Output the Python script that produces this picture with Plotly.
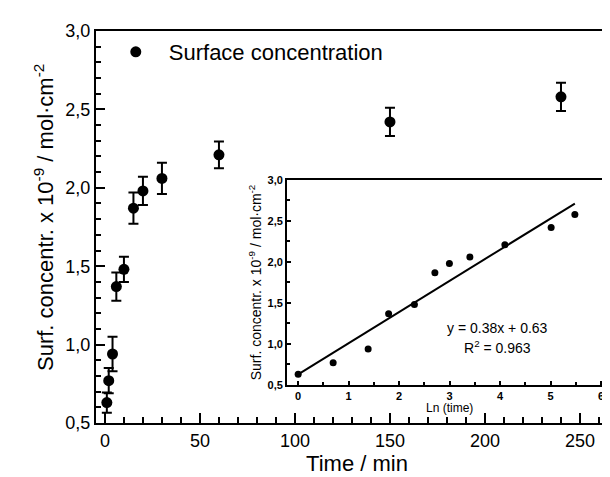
import numpy as np
import plotly.graph_objects as go

# Data
time_min = [1, 2, 4, 6, 10, 15, 20, 30, 60, 150, 240]
surf_conc = [0.63, 0.77, 0.94, 1.37, 1.48, 1.87, 1.98, 2.06, 2.21, 2.42, 2.58]
surf_err = [0.065, 0.08, 0.11, 0.09, 0.08, 0.10, 0.09, 0.10, 0.085, 0.09, 0.09]
fit_slope = 0.38
fit_intercept = 0.63
r_squared = 0.963

ln_time = np.log(np.array(time_min, dtype=float))
fit_x = np.array([0.0, ln_time.max()])
fit_y = fit_slope * fit_x + fit_intercept

FONT = "Arial, Liberation Sans, sans-serif"
ytitle = "Surf. concentr. x 10<sup>-9</sup> / mol·cm<sup>-2</sup>"

fig = go.Figure()
fig.add_trace(go.Scatter(
    x=time_min, y=surf_conc, mode="markers", name="Surface concentration",
    marker=dict(color="black", size=11),
    error_y=dict(type="data", array=surf_err, color="black", thickness=2, width=5),
    xaxis="x", yaxis="y", showlegend=True,
))
fig.add_trace(go.Scatter(
    x=ln_time, y=surf_conc, mode="markers", marker=dict(color="black", size=7),
    xaxis="x2", yaxis="y2", showlegend=False,
))
fig.add_trace(go.Scatter(
    x=fit_x, y=fit_y, mode="lines", line=dict(color="black", width=2),
    xaxis="x2", yaxis="y2", showlegend=False,
))

fig.update_layout(
    width=610, height=477,
    margin=dict(l=88, r=0, t=23, b=62, autoexpand=False),
    paper_bgcolor="white", plot_bgcolor="white",
    separators=",.",
    font=dict(family=FONT, color="black", size=18),
    showlegend=True,
    legend=dict(x=0.013, y=1.0, xanchor="left", yanchor="top",
                bgcolor="rgba(0,0,0,0)", itemwidth=56,
                font=dict(size=22, family=FONT)),
    xaxis=dict(
        domain=[0, 1], range=[-4.7, 270], showline=True, linewidth=2, linecolor="black",
        mirror=True, ticks="inside", ticklen=10, tickwidth=2, tickcolor="black",
        dtick=50, tick0=0, showgrid=False, zeroline=False, automargin=False,
        minor=dict(dtick=10, ticks="inside", ticklen=6, tickwidth=2, tickcolor="black"),
        title=dict(text="Time / min", font=dict(size=22), standoff=6),
        tickfont=dict(size=18),
    ),
    yaxis=dict(
        domain=[0, 1], range=[0.5, 3.0], showline=True, linewidth=2, linecolor="black",
        mirror=False, ticks="inside", ticklen=9, tickwidth=2, tickcolor="black",
        dtick=0.5, tick0=0.5, tickformat=".1f", showgrid=False, zeroline=False,
        automargin=False,
        minor=dict(dtick=0.1, ticks="inside", ticklen=5, tickwidth=2, tickcolor="black"),
        tickfont=dict(size=18),
    ),
    xaxis2=dict(
        domain=[0.366, 0.985], anchor="y2", range=[-0.22, 6.18], showline=True,
        linewidth=2, linecolor="black", mirror=True, ticks="inside", ticklen=4,
        tickwidth=2, tickcolor="black", dtick=1, tick0=0, showgrid=False, zeroline=False,
        automargin=False,
        minor=dict(dtick=0.5, ticks="inside", ticklen=3, tickwidth=2, tickcolor="black"),
        tickfont=dict(size=11, weight="bold"),
    ),
    yaxis2=dict(
        domain=[0.097, 0.62], anchor="x2", range=[0.5, 3.0], showline=True,
        linewidth=2, linecolor="black", mirror=True, ticks="inside", ticklen=4,
        tickwidth=2, tickcolor="black", dtick=0.5, tick0=0.5, tickformat=".1f",
        showgrid=False, zeroline=False, automargin=False,
        minor=dict(dtick=0.25, ticks="inside", ticklen=3, tickwidth=2, tickcolor="black"),
        tickfont=dict(size=11, weight="bold"),
        title=dict(text=ytitle, font=dict(size=14), standoff=3),
    ),
    annotations=[
        dict(x=0, y=0.523, xref="paper", yref="paper", xshift=-52, showarrow=False,
             xanchor="center", yanchor="middle", textangle=-90, text=ytitle,
             font=dict(size=22)),
        dict(x=3.0, y=0.5, xref="x2", yref="y2", yshift=-14, showarrow=False,
             xanchor="center", yanchor="top", text="Ln (time)", font=dict(size=12)),
        dict(x=0.77, y=0.218, xref="paper", yref="paper", showarrow=False,
             xanchor="center", text=f"y = {fit_slope}x + {fit_intercept}",
             font=dict(size=14)),
        dict(x=0.77, y=0.165, xref="paper", yref="paper", showarrow=False,
             xanchor="center", text=f"R<sup>2</sup> = {r_squared}", font=dict(size=14)),
    ],
)

fig.write_html("out.html")
